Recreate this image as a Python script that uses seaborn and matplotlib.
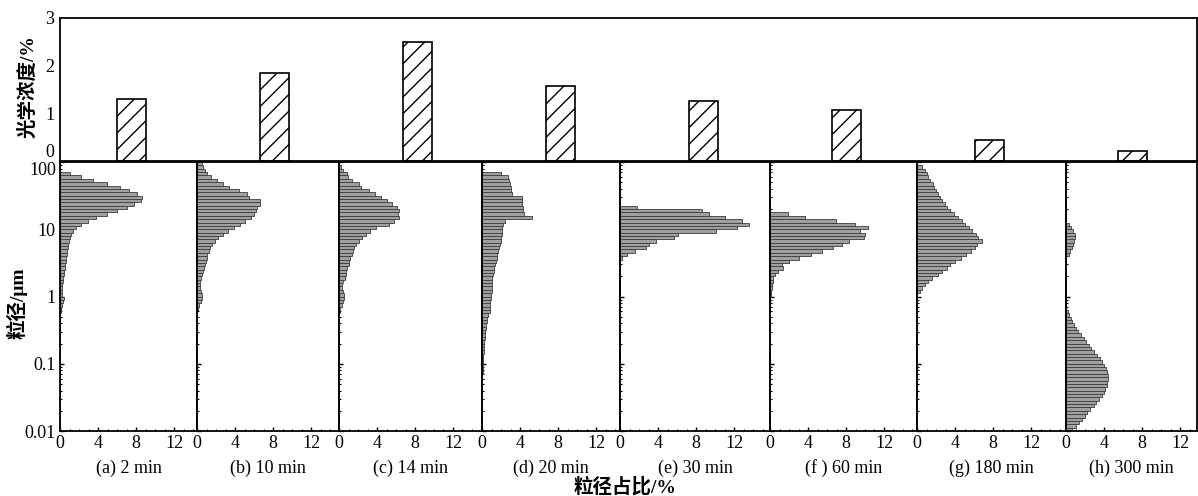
import numpy as np
import seaborn as sns
import matplotlib
matplotlib.use('Agg')  # non-GUI backend
import matplotlib.pyplot as plt
from matplotlib.ticker import LogLocator, MultipleLocator, NullFormatter

# top: optical concentration per sampling time
times = ['2 min', '10 min', '14 min', '20 min', '30 min', '60 min', '180 min', '300 min']
tags = ['(a)', '(b)', '(c)', '(d)', '(e)', '(f )', '(g)', '(h)']
conc = [1.31, 1.84, 2.49, 1.57, 1.25, 1.06, 0.44, 0.21]

# size distributions, % per class, 20 classes per decade,
# listed from the 100 um class downwards (missing tail = 0)
d_2min = [0, 0, 0, 1.1, 2.2, 3.5, 4.9, 6.3, 7.3, 8.1, 8.6, 8.5, 7.8, 7.0, 6.0, 4.9, 3.8, 2.9, 2.2, 1.7,
          1.4, 1.2, 1.05, 0.95, 0.85, 0.8, 0.75, 0.7, 0.65, 0.6, 0.55, 0.5, 0.45, 0.4, 0.35, 0.3, 0.25, 0.2, 0.2, 0.25,
          0.4, 0.35, 0.25, 0.15, 0.1]
d_10min = [0.5, 0.6, 0.8, 1.1, 1.5, 2.1, 2.7, 3.4, 4.4, 5.3, 5.5, 6.6, 6.6, 6.3, 6.2, 6.0, 5.7, 5.1, 4.5, 3.9,
           3.3, 2.7, 2.2, 1.9, 1.6, 1.4, 1.3, 1.1, 1.0, 0.9, 0.8, 0.7, 0.6, 0.55, 0.4, 0.35, 0.3, 0.3, 0.4, 0.5,
           0.5, 0.4, 0.25, 0.1]
d_14min = [0, 0.2, 0.4, 0.8, 0.9, 1.4, 2.1, 2.3, 3.2, 3.8, 4.4, 5.0, 5.6, 6.1, 6.3, 6.2, 6.3, 5.8, 5.3, 3.9,
           3.3, 2.8, 2.4, 2.1, 1.8, 1.6, 1.5, 1.4, 1.2, 1.1, 1.0, 0.8, 0.7, 0.7, 0.6, 0.4, 0.35, 0.3, 0.4, 0.5,
           0.55, 0.4, 0.3, 0.15, 0.1]
d_20min = [0, 0, 0, 2.0, 2.7, 2.8, 2.9, 3.0, 3.1, 3.2, 4.2, 4.2, 4.2, 4.3, 4.3, 4.4, 5.3, 2.4, 2.2, 2.1,
           2.1, 2.1, 2.0, 2.0, 1.9, 1.8, 1.7, 1.6, 1.6, 1.5, 1.4, 1.3, 1.3, 1.2, 1.1, 1.1, 1.1, 1.0, 1.0, 0.9,
           0.9, 0.85, 0.85, 0.8, 0.8, 0.6, 0.5, 0.5, 0.45, 0.4, 0.35, 0.3, 0.3, 0.25, 0.2, 0.2, 0.2, 0.15, 0.15, 0.1,
           0.08, 0.07, 0.06, 0.05, 0.05, 0.04, 0.04, 0.03, 0.03, 0.02, 0.02]
d_30min = [0] * 13 + [1.8, 8.6, 9.4, 11.0, 12.8, 13.6, 12.3, 10.1, 6.1, 5.7, 3.8, 3.0, 2.7, 1.6, 0.75, 0.2]
d_60min = [0] * 15 + [1.9, 3.7, 6.9, 8.9, 10.3, 9.5, 10.0, 9.9, 8.3, 7.6, 6.6, 5.5, 4.3, 3.1, 2.0, 1.3,
                      1.4, 0.85, 0.5, 0.3, 0.3, 0.25, 0.2, 0.15, 0.1]
d_180min = [0, 0.5, 0.8, 1.0, 1.2, 1.4, 1.7, 1.8, 2.0, 2.2, 2.4, 2.6, 2.9, 3.2, 3.5, 3.9, 4.3, 4.7, 5.1, 5.5,
            5.8, 6.2, 6.4, 6.8, 6.3, 6.1, 5.7, 5.2, 4.6, 4.0, 3.5, 3.2, 2.6, 2.2, 1.6, 1.2, 0.8, 0.5, 0.3]
d_300min = [0] * 18 + [0.3, 0.5, 0.75, 0.9, 0.95, 0.85, 0.75, 0.6, 0.45, 0.3] + [0] * 16 + \
           [0.2, 0.35, 0.5, 0.65, 0.8, 1.05, 1.3, 1.6, 1.9, 2.15, 2.4, 2.65, 2.9, 3.25, 3.6, 3.8,
            4.0, 4.2, 4.35, 4.4, 4.4, 4.35, 4.3, 4.15, 4.0, 3.75, 3.5, 3.2, 2.9, 2.55, 2.2, 1.95,
            1.7, 1.35, 1.0, 0.6]

dists = [d_2min, d_10min, d_14min, d_20min, d_30min, d_60min, d_180min, d_300min]

n_bins = 80
# class centres (um), top class first
size_um = 10 ** (2 - 0.05 * (np.arange(n_bins) + 0.5))

sns.set_style('ticks', {'axes.edgecolor': 'black', 'xtick.color': 'black', 'ytick.color': 'black',
                        'xtick.direction': 'in', 'ytick.direction': 'in', 'text.color': 'black'})
plt.rcParams['font.family'] = ['Liberation Serif', 'Noto Sans CJK SC']
plt.rcParams['hatch.linewidth'] = 1.0
plt.rcParams['axes.linewidth'] = 1.3

W, H = 1198, 496
fig = plt.figure(figsize=(W / 100, H / 100), dpi=100)

# ---- top bar chart
ax_top = fig.add_axes([60 / W, 1 - 161 / H, 1137 / W, 143 / H])
sns.barplot(x=times, y=conc, ax=ax_top, width=0.2, color='white', saturation=1,
            edgecolor='black', linewidth=1.2, hatch='//', errorbar=None)
ax_top.set_xlim(-0.5, 7.45)
ax_top.set_ylim(0, 3)
ax_top.set_xticks([])
ax_top.set_yticks([0, 1, 2, 3])
ax_top.set_yticklabels(['0', '1', '2', '3'])
ax_top.tick_params(axis='y', length=0, labelsize=13, pad=4)
ax_top.yaxis.get_ticklabels()[0].set_va('bottom')
ax_top.set_xlabel('')
ax_top.set_ylabel('')

# ---- bottom histogram panels
edges_px = [60, 197, 339, 482, 620, 770, 917, 1066, 1197]
for k, vals in enumerate(dists):
    x0, x1 = edges_px[k], edges_px[k + 1]
    ax = fig.add_axes([x0 / W, 1 - 431 / H, (x1 - x0) / W, 269 / H])
    w = np.zeros(n_bins)
    w[:len(vals)] = vals
    sns.histplot(y=size_um, weights=w, bins=n_bins, binrange=(-2, 2), log_scale=(False, True),
                 ax=ax, color='#a0a0a0', edgecolor='#3c3c3c', linewidth=0.6, alpha=1)
    ax.set_xlim(0, (x1 - x0) / 9.5)
    ax.set_ylim(0.01, 100)
    ax.set_xticks([0, 4, 8, 12])
    ax.xaxis.set_minor_locator(MultipleLocator(1))
    ax.set_yticks([0.01, 0.1, 1, 10, 100])
    ax.yaxis.set_minor_locator(LogLocator(base=10, subs=np.arange(2, 10)))
    ax.yaxis.set_minor_formatter(NullFormatter())
    ax.tick_params(which='major', length=3, width=1, labelsize=13, pad=3)
    ax.tick_params(which='minor', length=1.5, width=0.8)
    if k == 0:
        ax.set_yticklabels(['0.01', '0.1', '1', '10', '100'])
        ax.yaxis.get_ticklabels()[-1].set_va('top')
    else:
        ax.tick_params(axis='y', which='both', labelleft=False)
    ax.set_xlabel('')
    ax.set_ylabel('')
    for s in ax.spines.values():
        s.set_visible(True)
        s.set_linewidth(1.3)
    # panel caption on a common baseline
    fig.text((x0 + x1) / 2 / W, 1 - 473 / H, f'{tags[k]} {times[k]}', ha='center',
             va='baseline', fontsize=13)

fig.text(28 / W, 1 - 87 / H, '光学浓度/%', rotation=90, ha='center', va='center',
         fontsize=14, fontweight='bold')
fig.text(17 / W, 1 - 303 / H, '粒径/μm', rotation=90, ha='center', va='center',
         fontsize=14, fontweight='bold')
fig.text(625 / W, 1 - 487 / H, '粒径占比/%', ha='center', va='center',
         fontsize=14, fontweight='bold')

fig.savefig('out.png', dpi=100)
